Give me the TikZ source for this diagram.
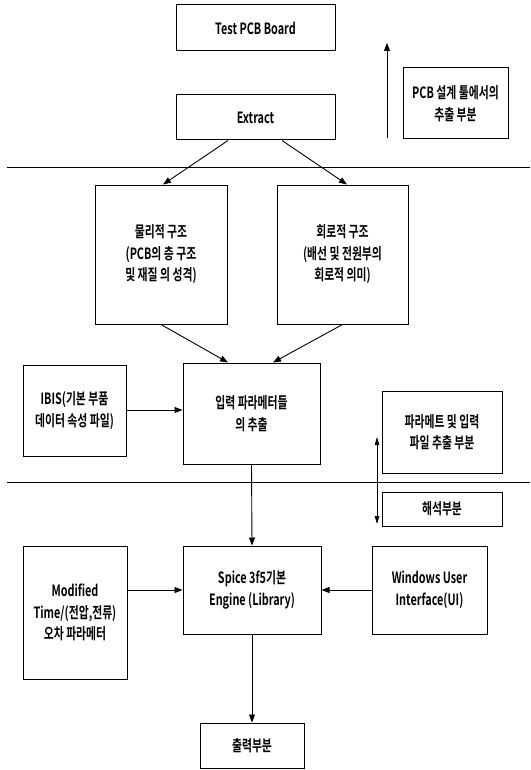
\documentclass[tikz,border=0pt]{standalone}
\usepackage{fontspec}
\setmainfont{Noto Sans CJK KR}[FakeStretch=0.7,BoldFont={Noto Sans CJK KR Bold},BoldFeatures={FakeStretch=0.7}]
\usetikzlibrary{arrows.meta,calc}
\begin{document}
\begin{tikzpicture}[x=1pt,y=-1pt,
  box/.style={draw,line width=1pt,align=center,inner sep=0pt,font=\fontsize{15.5}{21.5}\selectfont\bfseries},
  arr/.style={line width=0.9pt,-{Triangle[length=8pt,width=6pt]}},
  darr/.style={line width=0.9pt,{Triangle[length=8pt,width=4.5pt]}-{Triangle[length=8pt,width=4.5pt]}},
  sep/.style={line width=0.8pt}]
\useasboundingbox (0,0) rectangle (530,770);
\node[box,minimum width=159pt,minimum height=46pt] (test) at (255.5,28) {Test PCB Board};
\node[box,minimum width=159pt,minimum height=45pt] (extract) at (255.5,117.5) {Extract};
\node[box,minimum width=105pt,minimum height=71pt] (lab1) at (455.5,103.5) {PCB 설계 툴에서의\\추출 부분};
\coordinate (up1a) at (387,138);
\coordinate (up1b) at (387,43);
\draw[arr] (up1a) -- (up1b);
\coordinate (l1a) at (7,167);
\coordinate (l1b) at (530,167);
\draw[sep] (l1a) -- (l1b);
\node[box,minimum width=132pt,minimum height=139pt] (phys) at (161,254.5) {물리적 구조\\(PCB의 층 구조\\및 재질 의 성격)};
\node[box,minimum width=131pt,minimum height=139pt] (circ) at (342.5,254.5) {회로적 구조\\(배선 및 전원부의\\회로적 의미)};
\draw[arr] ($(extract.south)+(-27.5,0)$) -- ($(phys.north)+(2,0)$);
\draw[arr] ($(extract.south)+(26.5,0)$) -- ($(circ.north)+(4.5,0)$);
\node[box,minimum width=103pt,minimum height=91pt] (ibis) at (74.5,410.5) {IBIS(기본 부품\\데이터 속성 파일)};
\node[box,minimum width=137pt,minimum height=101pt] (input) at (251.5,413.5) {입력 파라메터들\\의 추출};
\draw[arr] (phys.south) -- ($(input.north)+(-23.5,0)$);
\draw[arr] (circ.south) -- ($(input.north)+(21.5,0)$);
\draw[arr] (ibis.east |- 0,410) -- (input.west |- 0,410);
\node[box,minimum width=120pt,minimum height=82pt] (param) at (442,432) {파라메트 및 입력\\파일 추출 부분};
\coordinate (l2a) at (7,482);
\coordinate (l2b) at (530,482);
\draw[sep] (l2a) -- (l2b);
\node[box,minimum width=120pt,minimum height=34pt] (anal) at (442,509) {해석부분};
\coordinate (d1) at (377,437);
\coordinate (d2) at (377,524);
\draw[darr] (d1) -- (d2);
\node[box,minimum width=104pt,minimum height=133pt] (mod) at (75,612.5) {Modified\\Time/(전압,전류)\\오차 파라메터};
\node[box,minimum width=138pt,minimum height=88pt] (spice) at (252,590) {Spice 3f5기본\\Engine (Library)};
\node[box,minimum width=115pt,minimum height=88pt] (win) at (429.5,590) {Windows User\\Interface(UI)};
\node[box,minimum width=104pt,minimum height=45pt] (out) at (252,745.5) {출력부분};
\draw[arr] (input.south) -- (spice.north);
\draw[arr] (spice.south) -- (out.north);
\draw[arr] (mod.east |- spice.west) -- (spice.west);
\draw[arr] (win.west) -- (spice.east);
\end{tikzpicture}
\end{document}
